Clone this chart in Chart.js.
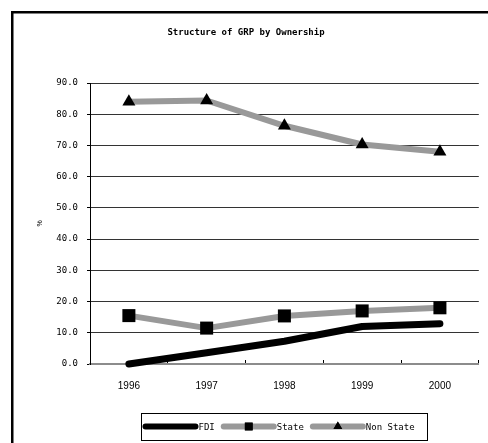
<!DOCTYPE html>
<html>
<head>
<meta charset="utf-8">
<title>Structure of GRP by Ownership</title>
<script src="https://cdn.jsdelivr.net/npm/chart.js@4/dist/chart.umd.min.js"></script>
<style>
  html, body { margin: 0; padding: 0; background: #ffffff; }
  canvas { display: block; }
</style>
</head>
<body>
<canvas id="grp" width="488" height="443"></canvas>
<script>
// Years on the horizontal axis
const years = ['1996', '1997', '1998', '1999', '2000'];

// Share of gross regional product, percent
const fdiShare = [0.0, 3.6, 7.3, 12.0, 12.9];
const stateShare = [15.5, 11.5, 15.4, 17.0, 18.0];
const nonStateShare = [84.0, 84.4, 76.3, 70.3, 68.0];

// Vertical axis range and step
const yMin = 0;
const yMax = 90;
const yStep = 10;

const MONO = '"DejaVu Sans Mono", "Liberation Mono", monospace';
const SANS = '"Liberation Sans", Arial, sans-serif';

// Heavy frame around the whole chart (left and top edges visible)
const framePlugin = {
  id: 'frame',
  beforeDraw(chart) {
    const ctx = chart.ctx;
    ctx.save();
    ctx.fillStyle = '#000000';
    ctx.fillRect(11, 11, chart.width - 11, 2.5);
    ctx.fillRect(11, 11, 2.5, chart.height - 11);
    ctx.restore();
  }
};

// Boxed legend under the axis: line swatch with the marker in its middle
const boxLegendPlugin = {
  id: 'boxLegend',
  afterDraw(chart, args, opts) {
    const ctx = chart.ctx;
    ctx.save();
    ctx.strokeStyle = '#000000';
    ctx.lineWidth = 1;
    ctx.strokeRect(opts.left + 0.5, opts.top + 0.5, opts.width, opts.height);
    ctx.font = opts.font;
    ctx.textBaseline = 'middle';
    ctx.textAlign = 'left';
    const cy = opts.top + opts.height / 2;
    let x = opts.left + 1.5;
    chart.data.datasets.forEach((ds) => {
      ctx.strokeStyle = ds.borderColor;
      ctx.lineWidth = opts.swatchWidth;
      ctx.lineCap = 'round';
      ctx.beginPath();
      ctx.moveTo(x + opts.swatchWidth / 2, cy);
      ctx.lineTo(x + opts.swatchLength - opts.swatchWidth / 2, cy);
      ctx.stroke();
      if (ds.pointRadius > 0) {
        Chart.helpers.drawPoint(ctx, {
          pointStyle: ds.pointStyle,
          radius: ds.pointStyle === 'triangle' ? opts.triangleRadius : opts.rectRadius,
          borderWidth: 0,
          rotation: 0
        }, x + opts.swatchLength / 2, cy);
        ctx.fillStyle = ds.pointBackgroundColor;
        ctx.fill();
      }
      x += opts.swatchLength;
      ctx.fillStyle = '#000000';
      ctx.fillText(ds.label, x, cy + 1);
      x += ctx.measureText(ds.label).width + opts.gap;
    });
    ctx.restore();
  }
};

new Chart(document.getElementById('grp'), {
  type: 'line',
  data: {
    labels: years,
    datasets: [
      {
        label: 'FDI',
        data: fdiShare,
        borderColor: '#000000',
        borderWidth: 7,
        borderCapStyle: 'round',
        borderJoinStyle: 'round',
        pointRadius: 0,
        pointHoverRadius: 0,
        tension: 0,
        clip: false
      },
      {
        label: 'State',
        data: stateShare,
        borderColor: '#999999',
        borderWidth: 6,
        borderJoinStyle: 'round',
        pointStyle: 'rect',
        pointRadius: 9.2,
        pointHoverRadius: 9.2,
        pointBackgroundColor: '#000000',
        pointBorderWidth: 0,
        tension: 0,
        clip: false
      },
      {
        label: 'Non State',
        data: nonStateShare,
        borderColor: '#999999',
        borderWidth: 6,
        borderJoinStyle: 'round',
        pointStyle: 'triangle',
        pointRadius: 7.5,
        pointHoverRadius: 7.5,
        pointBackgroundColor: '#000000',
        pointBorderWidth: 0,
        tension: 0,
        clip: false
      }
    ]
  },
  options: {
    responsive: false,
    animation: false,
    events: [],
    layout: { padding: { left: 12, right: 8, top: 12, bottom: 49 } },
    plugins: {
      legend: { display: false },
      tooltip: { enabled: false },
      title: {
        display: true,
        text: 'Structure of GRP by Ownership',
        color: '#000000',
        font: { family: MONO, size: 9, weight: 'bold', lineHeight: 1.2 },
        padding: { top: 15.4, bottom: 44.8 }
      },
      boxLegend: {
        left: 141,
        top: 413,
        width: 286,
        height: 27,
        swatchLength: 56,
        swatchWidth: 6,
        rectRadius: 5.5,
        triangleRadius: 5,
        gap: 6,
        font: '9px ' + MONO
      }
    },
    scales: {
      x: {
        type: 'category',
        offset: true,
        grid: {
          offset: true,
          drawOnChartArea: false,
          drawTicks: true,
          tickLength: -4,
          tickColor: '#000000',
          tickWidth: 1
        },
        border: { display: true, color: '#8c8c8c', width: 2 },
        ticks: {
          color: '#000000',
          font: { family: SANS, size: 10 },
          padding: 20,
          maxRotation: 0
        },
        afterFit(scale) { scale.height = 30; }
      },
      y: {
        min: yMin,
        max: yMax,
        grid: {
          color: (ctx) => (ctx.tick && ctx.tick.value === 0 ? 'rgba(0,0,0,0)' : '#333333'),
          lineWidth: 1,
          drawTicks: true,
          tickLength: 3,
          tickColor: '#000000'
        },
        border: { display: true, color: '#000000', width: 1 },
        ticks: {
          stepSize: yStep,
          color: '#000000',
          font: { family: MONO, size: 9 },
          padding: 9,
          callback: (v) => Number(v).toFixed(1)
        },
        title: {
          display: true,
          text: '%',
          color: '#000000',
          font: { family: SANS, size: 7 },
          padding: { top: 24, bottom: 0 }
        },
        afterFit(scale) { scale.width = 78; }
      }
    }
  },
  plugins: [framePlugin, boxLegendPlugin]
});
</script>
</body>
</html>
